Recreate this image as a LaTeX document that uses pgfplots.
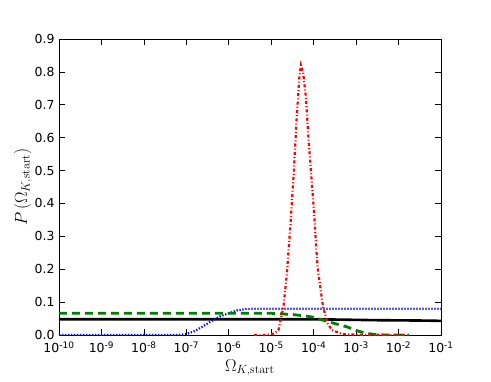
\documentclass[border=0pt]{standalone}
\usepackage{pgfplots}
\pgfplotsset{compat=1.18}
\usepackage{pgfplotstable}
\usepackage[no-math]{fontspec}
\setmainfont{DejaVu Sans}

% columns: log10(Omega_K,start), P
\pgfplotstableread{
lx y
-10 0.048
-4.5 0.048
-3.5 0.047
-2.5 0.045
-1.5 0.044
-1 0.043
}\solid
\pgfplotstableread{
lx y
-10 0.066
-5.0 0.066
-4.48 0.062
-4.2 0.058
-4.0 0.054
-3.7 0.042
-3.45 0.033
-3.22 0.025
-3.0 0.014
-2.9 0.010
-2.7 0.004
-2.5 0.001
-2.3 0.0
-1.75 0.0
}\dashed
\pgfplotstableread{
lx y
-10 0.0
-7.2 0.0
-7.0 0.003
-6.8 0.012
-6.6 0.027
-6.4 0.043
-6.2 0.057
-6.0 0.066
-5.8 0.075
-5.6 0.079
-5.4 0.080
-5.0 0.080
-1 0.080
}\dotted
\pgfplotstableread{
lx y
-5.4 0.0
-5.1 0.0005
-4.95 0.004
-4.83 0.015
-4.71 0.086
-4.63 0.188
-4.55 0.33
-4.47 0.49
-4.40 0.66
-4.34 0.78
-4.30 0.82
-4.25 0.80
-4.18 0.72
-4.12 0.593
-4.0 0.39
-3.91 0.208
-3.78 0.086
-3.67 0.035
-3.57 0.015
-3.33 0.003
-3.0 0.001
-1.85 0.0
}\dashdot

\newcommand{\dec}[1]{10\textsuperscript{\fontsize{9}{10}\selectfont -#1}}

\begin{document}
\begin{tikzpicture}
\begin{axis}[
  name=ax,
  scale only axis, width=382bp, height=296bp,
  xmode=log, log basis x=10,
  xmin=1e-10, xmax=1e-1, ymin=0, ymax=0.9,
  xtick={1e-10,1e-9,1e-8,1e-7,1e-6,1e-5,1e-4,1e-3,1e-2,1e-1},
  xticklabels={\dec{10},\dec{9},\dec{8},\dec{7},\dec{6},\dec{5},\dec{4},\dec{3},\dec{2},\dec{1}},
  ytick={0,0.1,...,0.9},
  yticklabel style={/pgf/number format/fixed, /pgf/number format/precision=1, /pgf/number format/fixed zerofill, /pgf/number format/assume math mode=true},
  tick label style={font=\fontsize{12.5}{14}\selectfont},
  xticklabel style={yshift=-3bp},
  yticklabel style={xshift=-1bp},
  tick align=inside, major tick length=6bp, minor tick length=3bp,
  xlabel={$\Omega_{K,\mathrm{start}}$},
  ylabel={$P\left(\Omega_{K,\mathrm{start}}\right)$},
  label style={font=\fontsize{17}{19}\selectfont},
  xlabel style={yshift=0bp},
  ylabel style={yshift=-4bp},
  axis line style={line width=0.8bp},
  every tick/.style={black, line width=0.6bp},
  clip=true,
]
\addplot[black, line width=2.6bp] table[x expr={10^(\thisrow{lx})}, y=y] {\solid};
\addplot[blue, line width=2.2bp, dash pattern=on 1.3bp off 1.7bp] table[x expr={10^(\thisrow{lx})}, y=y] {\dotted};
\addplot[green!50!black, line width=2.8bp, dash pattern=on 8bp off 5bp] table[x expr={10^(\thisrow{lx})}, y=y] {\dashed};
\addplot[red, line width=2.2bp, dash pattern=on 3bp off 2.2bp on 1bp off 2.2bp] table[x expr={10^(\thisrow{lx})}, y=y] {\dashdot};
\end{axis}
\path (ax.south west) ++(-59bp,-47bp) rectangle ++(491bp,382bp);
\end{tikzpicture}
\end{document}
